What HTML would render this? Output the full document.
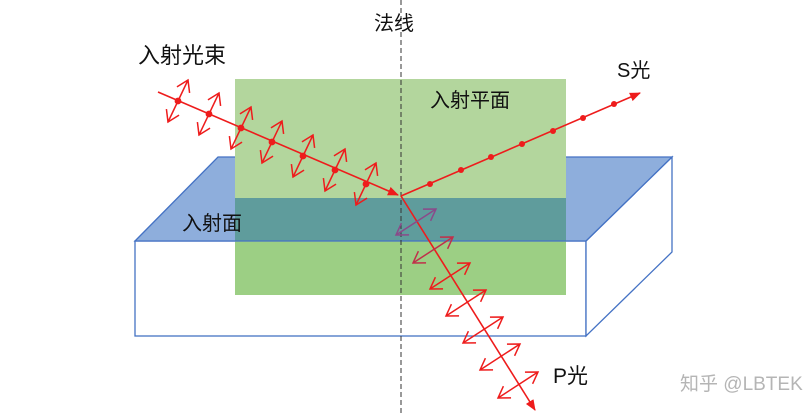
<!DOCTYPE html>
<html><head><meta charset="utf-8"><style>
html,body{margin:0;padding:0;background:#fff;}
svg{display:block;}
text{font-family:"Liberation Sans","Noto Sans CJK SC",sans-serif;fill:#111;}
</style></head><body>
<svg id="s" width="809" height="416" viewBox="0 0 809 416" xmlns="http://www.w3.org/2000/svg">
<defs>
<marker id="ah" markerWidth="11" markerHeight="9" refX="10" refY="4.5" orient="auto" markerUnits="userSpaceOnUse"><path d="M0,0 L11,4.5 L0,9 Z" fill="#ee1c1c"/></marker>
</defs>
<rect x="135" y="241" width="451" height="95" fill="#fff" stroke="#4472c4" stroke-width="1.3"/>
<polygon points="586,241 672,157 672,252 586,336" fill="#fff" stroke="#4472c4" stroke-width="1.3"/>
<polygon points="135,241 218,157 672,157 586,241" fill="#8eaedc" stroke="#4472c4" stroke-width="1.3"/>
<rect x="235" y="79" width="331" height="119" fill="#b3d69d"/>
<rect x="235" y="198" width="331" height="43" fill="#5f9c9c"/>
<rect x="235" y="241" width="331" height="54" fill="#9ccf84"/>
<line x1="235" y1="241" x2="566" y2="241" stroke="#4472c4" stroke-width="1.3"/>
<line x1="401" y1="0" x2="401" y2="416" stroke="#333" stroke-width="1" stroke-dasharray="5,3"/>
<g id="rays"></g>
<text x="374" y="30" font-size="20">法线</text>
<text x="138" y="63" font-size="22">入射光束</text>
<text x="617" y="77" font-size="20">S光</text>
<text x="430" y="107" font-size="20">入射平面</text>
<text x="182" y="230" font-size="20">入射面</text>
<text x="553" y="383" font-size="21">P光</text>
<text x="680" y="390" font-size="19" style="fill:#b5b5b5">知乎 @LBTEK</text>
</svg>
<script>
var g=document.getElementById('rays'),NS='http://www.w3.org/2000/svg';
function el(t,a){var e=document.createElementNS(NS,t);for(var k in a)e.setAttribute(k,a[k]);g.appendChild(e);return e;}
var R='#ee1c1c';
el('line',{x1:158,y1:92,x2:398,y2:195,stroke:R,'stroke-width':1.6,'marker-end':'url(#ah)'});
el('line',{x1:401,y1:196,x2:640,y2:93,stroke:R,'stroke-width':1.6,'marker-end':'url(#ah)'});
el('line',{x1:401,y1:196,x2:535,y2:410,stroke:R,'stroke-width':1.6,'marker-end':'url(#ah)'});
function dbl(cx,cy,dx,dy,c){
 var x1=cx-dx,y1=cy-dy,x2=cx+dx,y2=cy+dy;
 el('line',{x1:x1,y1:y1,x2:x2,y2:y2,stroke:c,'stroke-width':1.5});
 var L=Math.hypot(dx,dy),ux=dx/L,uy=dy/L,h=11,w=7;
 [[x2,y2,1],[x1,y1,-1]].forEach(function(p){
  var s=p[2],bx=p[0]-s*ux*h,by=p[1]-s*uy*h;
  el('polyline',{points:(bx-uy*w)+','+(by+ux*w)+' '+p[0]+','+p[1]+' '+(bx+uy*w)+','+(by-ux*w),fill:'none',stroke:c,'stroke-width':1.5});
 });
}
var inc=[[178,101],[209,114],[241,128],[272,142],[303,156],[335,170],[366,184]];
inc.forEach(function(p){dbl(p[0],p[1],10,-21,R);el('circle',{cx:p[0],cy:p[1],r:3.4,fill:R});});
var sd=[[430,184],[461,170],[491,157],[522,144],[553,131],[583,118],[614,104]];
sd.forEach(function(p){el('circle',{cx:p[0],cy:p[1],r:3,fill:R});});
var tr=[[416,222],[433,250],[450,276],[466,303],[483,330],[500,357],[518,385]];
tr.forEach(function(p,i){dbl(p[0],p[1],20,-13,i==0?'#8a4a8a':(i==1?'#c0304a':R));});
</script>
</body></html>
